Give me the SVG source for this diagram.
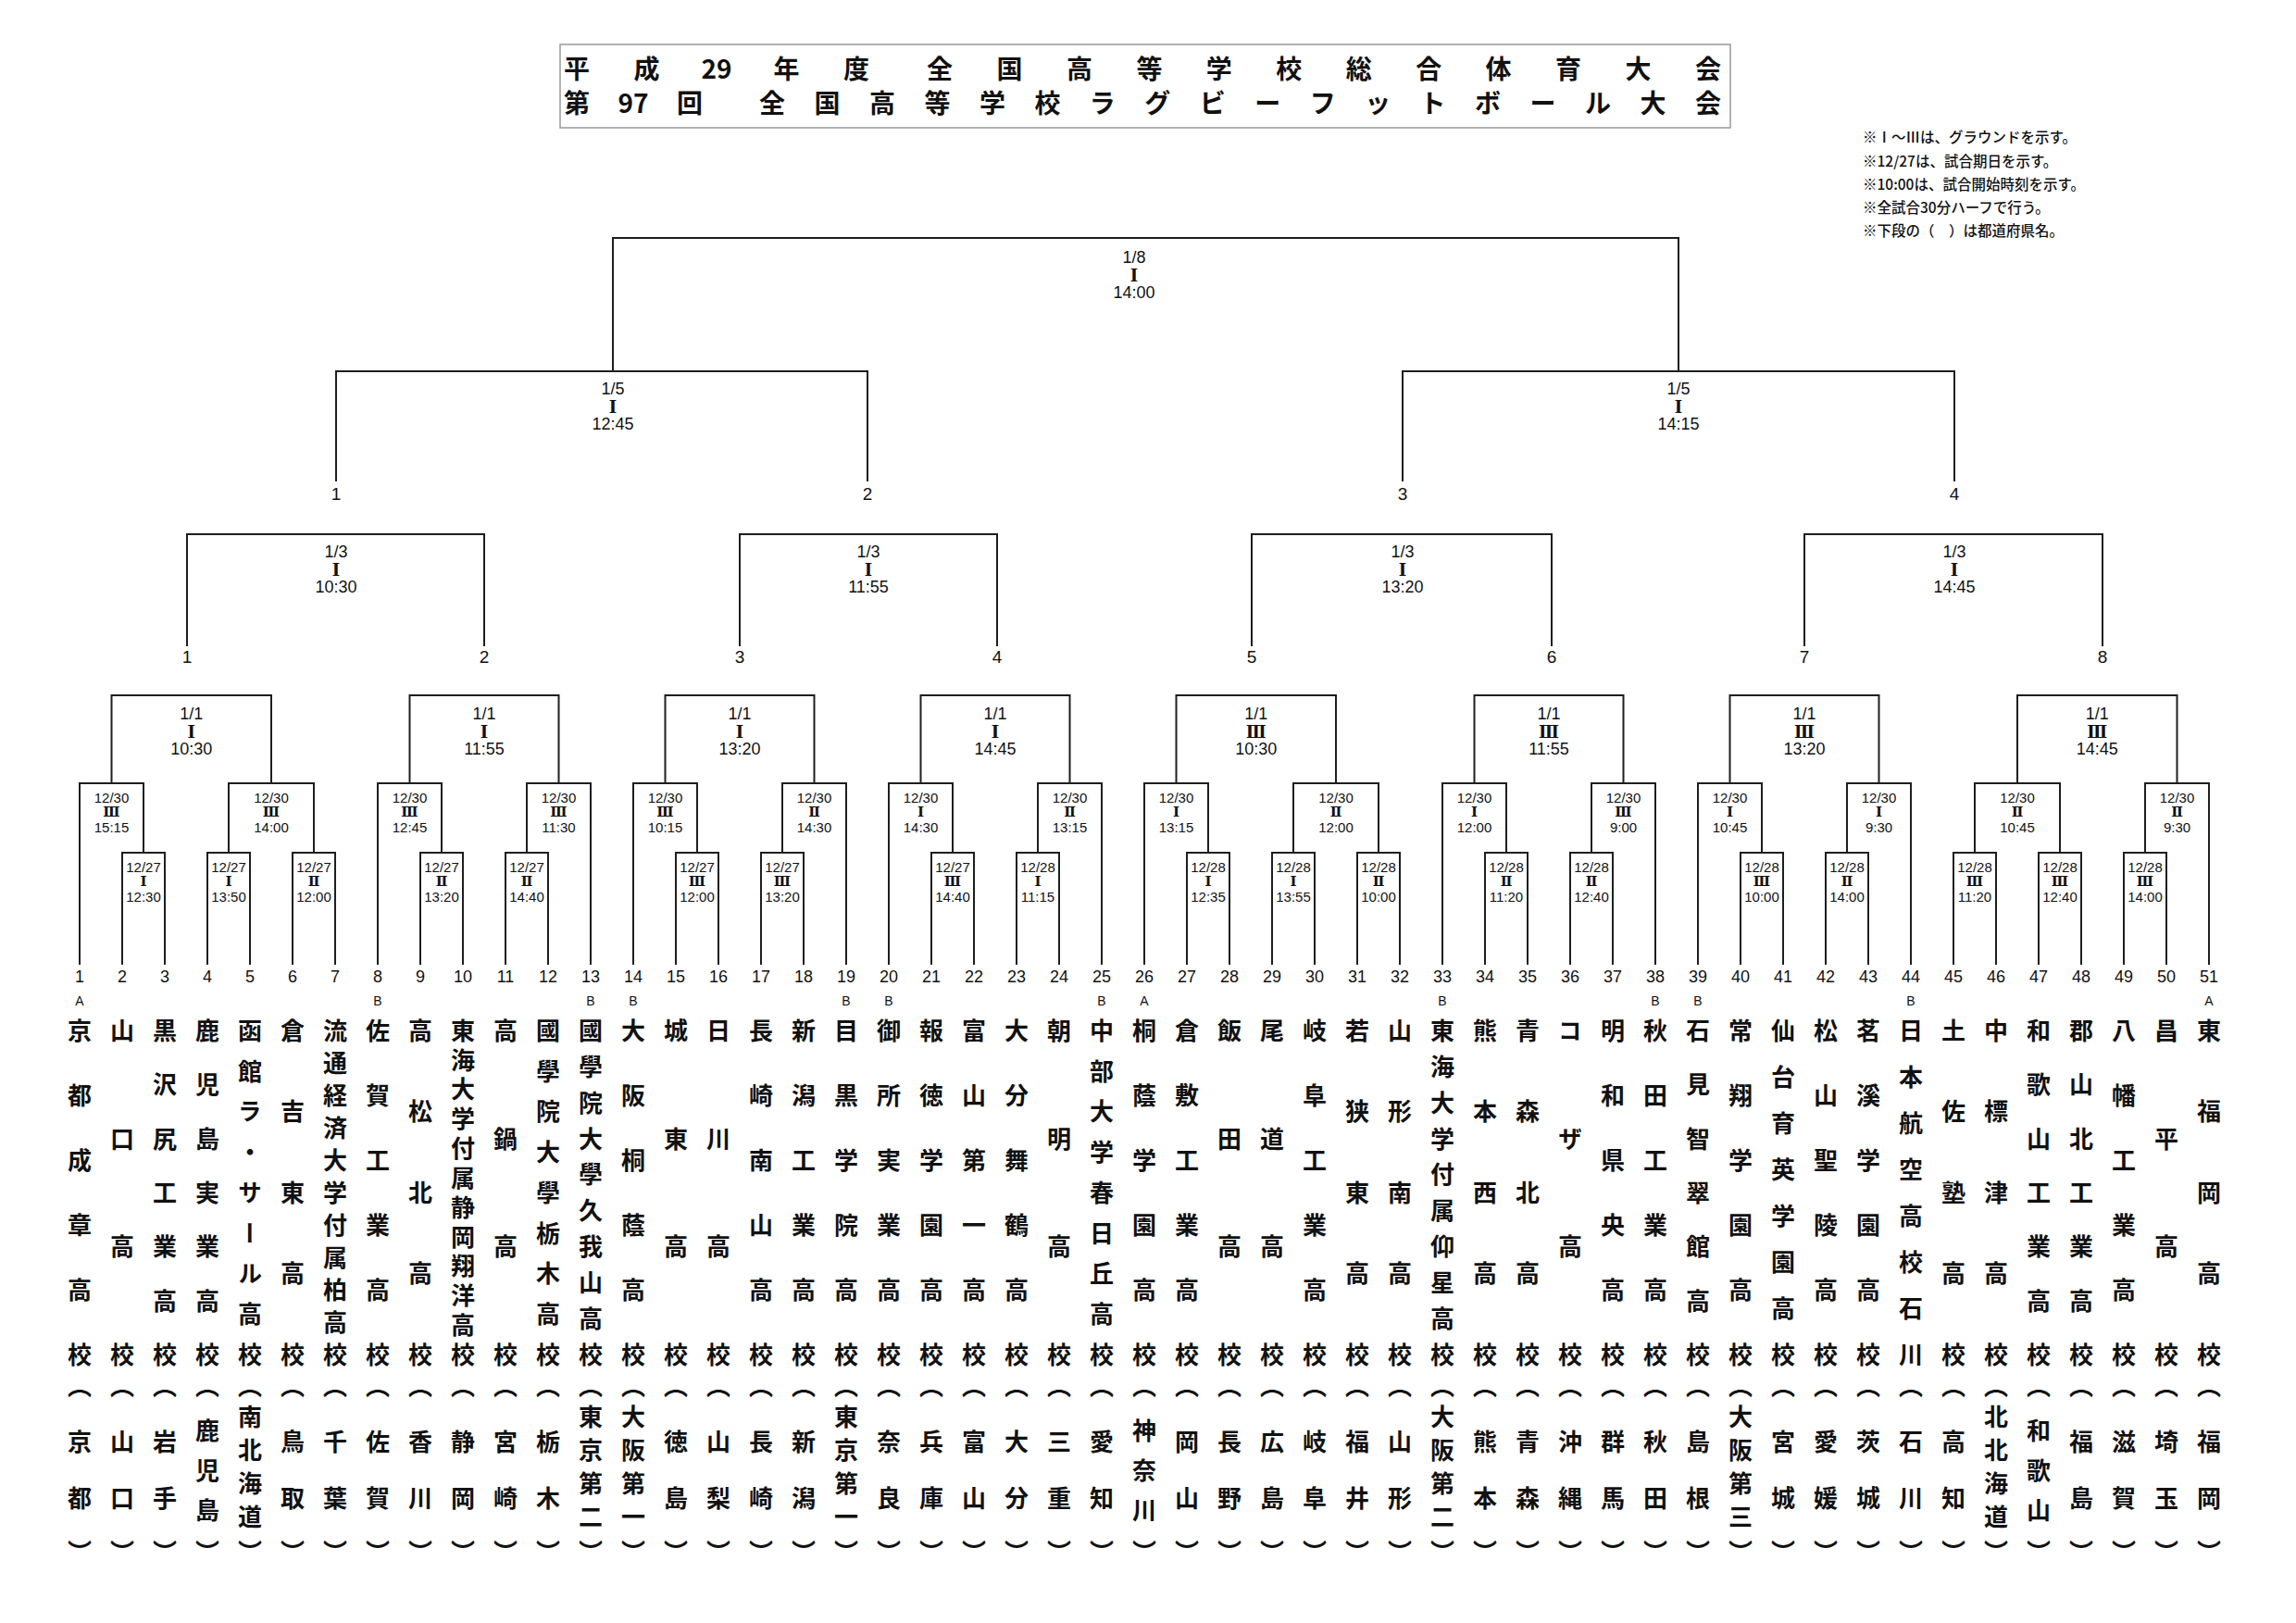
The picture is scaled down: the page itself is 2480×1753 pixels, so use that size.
<svg xmlns="http://www.w3.org/2000/svg" width="2480" height="1753" viewBox="0 0 2480 1753">
<style>
.ln{fill:none;stroke:#1e1e1e;stroke-width:2}
.d,.d tspan{font-family:"Liberation Sans Narrow","Liberation Sans",sans-serif;font-size:18px;text-anchor:middle;dominant-baseline:central;fill:#111}
.s,.s tspan{font-family:"Liberation Sans Narrow","Liberation Sans",sans-serif;font-size:15px;text-anchor:middle;dominant-baseline:central;fill:#111}
.d tspan.rn,.s tspan.rn{font-family:"DejaVu Serif","Noto Sans CJK JP",serif;font-weight:700}
.num{font-family:"Liberation Sans Narrow","Liberation Sans",sans-serif;font-size:18px;text-anchor:middle;dominant-baseline:central;fill:#111}
.big{font-size:19px}
.ab{font-family:"Liberation Sans",sans-serif;font-size:14px;text-anchor:middle;dominant-baseline:central;fill:#111}
.v{font-family:"Noto Sans CJK JP",sans-serif;font-size:26px;font-weight:700;writing-mode:vertical-rl;text-anchor:middle;fill:#111}
.tt,.tt tspan{font-family:"Noto Sans CJK JP",sans-serif;font-size:28px;font-weight:700;text-anchor:middle;dominant-baseline:central;fill:#111}
.nt{font-family:"Noto Sans CJK JP",sans-serif;font-size:15.5px;font-weight:500;dominant-baseline:central;fill:#111}
</style>
<rect width="2480" height="1753" fill="#fff"/>
<g id="title">
<rect x="605" y="48" width="1264" height="90" fill="none" stroke="#999" stroke-width="1.5"/>
<text class="tt" y="73"><tspan x="623 698.5">平成</tspan><tspan x="774">29</tspan><tspan x="849.5 925 1015 1090.5 1165.9 1241.4 1316.8 1392.3 1467.7 1543.2 1618.6 1694.1 1769.5 1845">年度全国高等学校総合体育大会</tspan></text>
<text class="tt" y="110"><tspan x="623">第</tspan><tspan x="684">97</tspan><tspan x="745 834 893.5 953 1012.4 1071.9 1131.4 1190.8 1250.3 1309.8 1369.2 1428.7 1488.2 1547.6 1607.1 1666.6 1726 1785.5 1845">回全国高等学校ラグビーフットボール大会</tspan></text>
</g>
<g id="notes">
<text class="nt" x="2012" y="147">※Ⅰ～Ⅲは、グラウンドを示す。</text>
<text class="nt" x="2012" y="173">※12/27は、試合期日を示す。</text>
<text class="nt" x="2012" y="198">※10:00は、試合開始時刻を示す。</text>
<text class="nt" x="2012" y="223">※全試合30分ハーフで行う。</text>
<text class="nt" x="2012" y="248">※下段の（　）は都道府県名。</text>
</g>
<g id="connectors" class="ln">
<path d="M662 401V257H1813V401"/>
<path d="M363 520V401H937V520"/>
<path d="M1515 520V401H2111V520"/>
<path d="M202 698V577H523V698"/>
<path d="M799 698V577H1077V698"/>
<path d="M1352 698V577H1676V698"/>
<path d="M1949 698V577H2271V698"/>
<path d="M120.5 846V751H293V846"/>
<path d="M442.5 846V751H603.5V846"/>
<path d="M718.5 846V751H879.5V846"/>
<path d="M994.5 846V751H1155.5V846"/>
<path d="M1270.5 846V751H1443V846"/>
<path d="M1592.5 846V751H1753.5V846"/>
<path d="M1868.5 846V751H2029.5V846"/>
<path d="M2179 846V751H2351.5V846"/>
<path d="M86 1042V846H155V921"/>
<path d="M247 921V846H339V921"/>
<path d="M408 1042V846H477V921"/>
<path d="M569 921V846H638V1042"/>
<path d="M684 1042V846H753V921"/>
<path d="M845 921V846H914V1042"/>
<path d="M960 1042V846H1029V921"/>
<path d="M1121 921V846H1190V1042"/>
<path d="M1236 1042V846H1305V921"/>
<path d="M1397 921V846H1489V921"/>
<path d="M1558 1042V846H1627V921"/>
<path d="M1719 921V846H1788V1042"/>
<path d="M1834 1042V846H1903V921"/>
<path d="M1995 921V846H2064V1042"/>
<path d="M2133 921V846H2225V921"/>
<path d="M2317 921V846H2386V1042"/>
<path d="M132 1042V921H178V1042"/>
<path d="M224 1042V921H270V1042"/>
<path d="M316 1042V921H362V1042"/>
<path d="M454 1042V921H500V1042"/>
<path d="M546 1042V921H592V1042"/>
<path d="M730 1042V921H776V1042"/>
<path d="M822 1042V921H868V1042"/>
<path d="M1006 1042V921H1052V1042"/>
<path d="M1098 1042V921H1144V1042"/>
<path d="M1282 1042V921H1328V1042"/>
<path d="M1374 1042V921H1420V1042"/>
<path d="M1466 1042V921H1512V1042"/>
<path d="M1604 1042V921H1650V1042"/>
<path d="M1696 1042V921H1742V1042"/>
<path d="M1880 1042V921H1926V1042"/>
<path d="M1972 1042V921H2018V1042"/>
<path d="M2110 1042V921H2156V1042"/>
<path d="M2202 1042V921H2248V1042"/>
<path d="M2294 1042V921H2340V1042"/>
</g>
<g id="final"><text class="d"><tspan x="1225" y="278">1/8</tspan><tspan class="rn" x="1225" y="297">Ⅰ</tspan><tspan x="1225" y="316">14:00</tspan></text></g>
<g id="sf-1"><text class="d"><tspan x="662" y="420">1/5</tspan><tspan class="rn" x="662" y="439">Ⅰ</tspan><tspan x="662" y="458">12:45</tspan></text></g>
<g id="sf-2"><text class="d"><tspan x="1813" y="420">1/5</tspan><tspan class="rn" x="1813" y="439">Ⅰ</tspan><tspan x="1813" y="458">14:15</tspan></text></g>
<g id="sf-slots"><text class="num big" x="363" y="533">1</text><text class="num big" x="937" y="533">2</text><text class="num big" x="1515" y="533">3</text><text class="num big" x="2111" y="533">4</text></g>
<g id="qf-1"><text class="d"><tspan x="363" y="596">1/3</tspan><tspan class="rn" x="363" y="615">Ⅰ</tspan><tspan x="363" y="634">10:30</tspan></text></g>
<g id="qf-2"><text class="d"><tspan x="938" y="596">1/3</tspan><tspan class="rn" x="938" y="615">Ⅰ</tspan><tspan x="938" y="634">11:55</tspan></text></g>
<g id="qf-3"><text class="d"><tspan x="1515" y="596">1/3</tspan><tspan class="rn" x="1515" y="615">Ⅰ</tspan><tspan x="1515" y="634">13:20</tspan></text></g>
<g id="qf-4"><text class="d"><tspan x="2111" y="596">1/3</tspan><tspan class="rn" x="2111" y="615">Ⅰ</tspan><tspan x="2111" y="634">14:45</tspan></text></g>
<g id="qf-slots"><text class="num big" x="202" y="709">1</text><text class="num big" x="523" y="709">2</text><text class="num big" x="799" y="709">3</text><text class="num big" x="1077" y="709">4</text><text class="num big" x="1352" y="709">5</text><text class="num big" x="1676" y="709">6</text><text class="num big" x="1949" y="709">7</text><text class="num big" x="2271" y="709">8</text></g>
<g id="r3-1"><text class="d"><tspan x="206.75" y="771">1/1</tspan><tspan class="rn" x="206.75" y="790">Ⅰ</tspan><tspan x="206.75" y="809">10:30</tspan></text></g>
<g id="r3-2"><text class="d"><tspan x="523" y="771">1/1</tspan><tspan class="rn" x="523" y="790">Ⅰ</tspan><tspan x="523" y="809">11:55</tspan></text></g>
<g id="r3-3"><text class="d"><tspan x="799" y="771">1/1</tspan><tspan class="rn" x="799" y="790">Ⅰ</tspan><tspan x="799" y="809">13:20</tspan></text></g>
<g id="r3-4"><text class="d"><tspan x="1075" y="771">1/1</tspan><tspan class="rn" x="1075" y="790">Ⅰ</tspan><tspan x="1075" y="809">14:45</tspan></text></g>
<g id="r3-5"><text class="d"><tspan x="1356.75" y="771">1/1</tspan><tspan class="rn" x="1356.75" y="790">Ⅲ</tspan><tspan x="1356.75" y="809">10:30</tspan></text></g>
<g id="r3-6"><text class="d"><tspan x="1673" y="771">1/1</tspan><tspan class="rn" x="1673" y="790">Ⅲ</tspan><tspan x="1673" y="809">11:55</tspan></text></g>
<g id="r3-7"><text class="d"><tspan x="1949" y="771">1/1</tspan><tspan class="rn" x="1949" y="790">Ⅲ</tspan><tspan x="1949" y="809">13:20</tspan></text></g>
<g id="r3-8"><text class="d"><tspan x="2265.25" y="771">1/1</tspan><tspan class="rn" x="2265.25" y="790">Ⅲ</tspan><tspan x="2265.25" y="809">14:45</tspan></text></g>
<g id="r2-1"><text class="s"><tspan x="120.5" y="861">12/30</tspan><tspan class="rn" x="120.5" y="877">Ⅲ</tspan><tspan x="120.5" y="893">15:15</tspan></text></g>
<g id="r2-2"><text class="s"><tspan x="293" y="861">12/30</tspan><tspan class="rn" x="293" y="877">Ⅲ</tspan><tspan x="293" y="893">14:00</tspan></text></g>
<g id="r2-3"><text class="s"><tspan x="442.5" y="861">12/30</tspan><tspan class="rn" x="442.5" y="877">Ⅲ</tspan><tspan x="442.5" y="893">12:45</tspan></text></g>
<g id="r2-4"><text class="s"><tspan x="603.5" y="861">12/30</tspan><tspan class="rn" x="603.5" y="877">Ⅲ</tspan><tspan x="603.5" y="893">11:30</tspan></text></g>
<g id="r2-5"><text class="s"><tspan x="718.5" y="861">12/30</tspan><tspan class="rn" x="718.5" y="877">Ⅲ</tspan><tspan x="718.5" y="893">10:15</tspan></text></g>
<g id="r2-6"><text class="s"><tspan x="879.5" y="861">12/30</tspan><tspan class="rn" x="879.5" y="877">Ⅱ</tspan><tspan x="879.5" y="893">14:30</tspan></text></g>
<g id="r2-7"><text class="s"><tspan x="994.5" y="861">12/30</tspan><tspan class="rn" x="994.5" y="877">Ⅰ</tspan><tspan x="994.5" y="893">14:30</tspan></text></g>
<g id="r2-8"><text class="s"><tspan x="1155.5" y="861">12/30</tspan><tspan class="rn" x="1155.5" y="877">Ⅱ</tspan><tspan x="1155.5" y="893">13:15</tspan></text></g>
<g id="r2-9"><text class="s"><tspan x="1270.5" y="861">12/30</tspan><tspan class="rn" x="1270.5" y="877">Ⅰ</tspan><tspan x="1270.5" y="893">13:15</tspan></text></g>
<g id="r2-10"><text class="s"><tspan x="1443" y="861">12/30</tspan><tspan class="rn" x="1443" y="877">Ⅱ</tspan><tspan x="1443" y="893">12:00</tspan></text></g>
<g id="r2-11"><text class="s"><tspan x="1592.5" y="861">12/30</tspan><tspan class="rn" x="1592.5" y="877">Ⅰ</tspan><tspan x="1592.5" y="893">12:00</tspan></text></g>
<g id="r2-12"><text class="s"><tspan x="1753.5" y="861">12/30</tspan><tspan class="rn" x="1753.5" y="877">Ⅲ</tspan><tspan x="1753.5" y="893">9:00</tspan></text></g>
<g id="r2-13"><text class="s"><tspan x="1868.5" y="861">12/30</tspan><tspan class="rn" x="1868.5" y="877">Ⅰ</tspan><tspan x="1868.5" y="893">10:45</tspan></text></g>
<g id="r2-14"><text class="s"><tspan x="2029.5" y="861">12/30</tspan><tspan class="rn" x="2029.5" y="877">Ⅰ</tspan><tspan x="2029.5" y="893">9:30</tspan></text></g>
<g id="r2-15"><text class="s"><tspan x="2179" y="861">12/30</tspan><tspan class="rn" x="2179" y="877">Ⅱ</tspan><tspan x="2179" y="893">10:45</tspan></text></g>
<g id="r2-16"><text class="s"><tspan x="2351.5" y="861">12/30</tspan><tspan class="rn" x="2351.5" y="877">Ⅱ</tspan><tspan x="2351.5" y="893">9:30</tspan></text></g>
<g id="r1-1"><text class="s"><tspan x="155" y="936">12/27</tspan><tspan class="rn" x="155" y="952">Ⅰ</tspan><tspan x="155" y="968">12:30</tspan></text></g>
<g id="r1-2"><text class="s"><tspan x="247" y="936">12/27</tspan><tspan class="rn" x="247" y="952">Ⅰ</tspan><tspan x="247" y="968">13:50</tspan></text></g>
<g id="r1-3"><text class="s"><tspan x="339" y="936">12/27</tspan><tspan class="rn" x="339" y="952">Ⅱ</tspan><tspan x="339" y="968">12:00</tspan></text></g>
<g id="r1-4"><text class="s"><tspan x="477" y="936">12/27</tspan><tspan class="rn" x="477" y="952">Ⅱ</tspan><tspan x="477" y="968">13:20</tspan></text></g>
<g id="r1-5"><text class="s"><tspan x="569" y="936">12/27</tspan><tspan class="rn" x="569" y="952">Ⅱ</tspan><tspan x="569" y="968">14:40</tspan></text></g>
<g id="r1-6"><text class="s"><tspan x="753" y="936">12/27</tspan><tspan class="rn" x="753" y="952">Ⅲ</tspan><tspan x="753" y="968">12:00</tspan></text></g>
<g id="r1-7"><text class="s"><tspan x="845" y="936">12/27</tspan><tspan class="rn" x="845" y="952">Ⅲ</tspan><tspan x="845" y="968">13:20</tspan></text></g>
<g id="r1-8"><text class="s"><tspan x="1029" y="936">12/27</tspan><tspan class="rn" x="1029" y="952">Ⅲ</tspan><tspan x="1029" y="968">14:40</tspan></text></g>
<g id="r1-9"><text class="s"><tspan x="1121" y="936">12/28</tspan><tspan class="rn" x="1121" y="952">Ⅰ</tspan><tspan x="1121" y="968">11:15</tspan></text></g>
<g id="r1-10"><text class="s"><tspan x="1305" y="936">12/28</tspan><tspan class="rn" x="1305" y="952">Ⅰ</tspan><tspan x="1305" y="968">12:35</tspan></text></g>
<g id="r1-11"><text class="s"><tspan x="1397" y="936">12/28</tspan><tspan class="rn" x="1397" y="952">Ⅰ</tspan><tspan x="1397" y="968">13:55</tspan></text></g>
<g id="r1-12"><text class="s"><tspan x="1489" y="936">12/28</tspan><tspan class="rn" x="1489" y="952">Ⅱ</tspan><tspan x="1489" y="968">10:00</tspan></text></g>
<g id="r1-13"><text class="s"><tspan x="1627" y="936">12/28</tspan><tspan class="rn" x="1627" y="952">Ⅱ</tspan><tspan x="1627" y="968">11:20</tspan></text></g>
<g id="r1-14"><text class="s"><tspan x="1719" y="936">12/28</tspan><tspan class="rn" x="1719" y="952">Ⅱ</tspan><tspan x="1719" y="968">12:40</tspan></text></g>
<g id="r1-15"><text class="s"><tspan x="1903" y="936">12/28</tspan><tspan class="rn" x="1903" y="952">Ⅲ</tspan><tspan x="1903" y="968">10:00</tspan></text></g>
<g id="r1-16"><text class="s"><tspan x="1995" y="936">12/28</tspan><tspan class="rn" x="1995" y="952">Ⅱ</tspan><tspan x="1995" y="968">14:00</tspan></text></g>
<g id="r1-17"><text class="s"><tspan x="2133" y="936">12/28</tspan><tspan class="rn" x="2133" y="952">Ⅲ</tspan><tspan x="2133" y="968">11:20</tspan></text></g>
<g id="r1-18"><text class="s"><tspan x="2225" y="936">12/28</tspan><tspan class="rn" x="2225" y="952">Ⅲ</tspan><tspan x="2225" y="968">12:40</tspan></text></g>
<g id="r1-19"><text class="s"><tspan x="2317" y="936">12/28</tspan><tspan class="rn" x="2317" y="952">Ⅲ</tspan><tspan x="2317" y="968">14:00</tspan></text></g>
<g id="t1"><text class="num" x="86" y="1055">1</text><text class="ab" x="86" y="1081">A</text><text class="v" x="86" y="1113 1183 1253 1323 1393 1463 1497 1557 1618 1676">京都成章高校（京都）</text></g>
<g id="t2"><text class="num" x="132" y="1055">2</text><text class="v" x="132" y="1113 1229.7 1346.3 1463 1497 1557 1618 1676">山口高校（山口）</text></g>
<g id="t3"><text class="num" x="178" y="1055">3</text><text class="v" x="178" y="1113 1171.3 1229.7 1288 1346.3 1404.7 1463 1497 1557 1618 1676">黒沢尻工業高校（岩手）</text></g>
<g id="t4"><text class="num" x="224" y="1055">4</text><text class="v" x="224" y="1113 1171.3 1229.7 1288 1346.3 1404.7 1463 1497 1545 1588 1631 1676">鹿児島実業高校（鹿児島）</text></g>
<g id="t5"><text class="num" x="270" y="1055">5</text><text class="v" x="270" y="1113 1156.8 1200.5 1244.3 1288 1331.8 1375.5 1419.3 1463 1497 1530 1566 1602 1638 1676">函館ラ・サール高校（南北海道）</text></g>
<g id="t6"><text class="num" x="316" y="1055">6</text><text class="v" x="316" y="1113 1200.5 1288 1375.5 1463 1497 1557 1618 1676">倉吉東高校（鳥取）</text></g>
<g id="t7"><text class="num" x="362" y="1055">7</text><text class="v" x="362" y="1113 1148 1183 1218 1253 1288 1323 1358 1393 1428 1463 1497 1557 1618 1676">流通経済大学付属柏高校（千葉）</text></g>
<g id="t8"><text class="num" x="408" y="1055">8</text><text class="ab" x="408" y="1081">B</text><text class="v" x="408" y="1113 1183 1253 1323 1393 1463 1497 1557 1618 1676">佐賀工業高校（佐賀）</text></g>
<g id="t9"><text class="num" x="454" y="1055">9</text><text class="v" x="454" y="1113 1200.5 1288 1375.5 1463 1497 1557 1618 1676">高松北高校（香川）</text></g>
<g id="t10"><text class="num" x="500" y="1055">10</text><text class="v" x="500" y="1113 1144.8 1176.6 1208.5 1240.3 1272.1 1303.9 1335.7 1367.5 1399.4 1431.2 1463 1497 1557 1618 1676">東海大学付属静岡翔洋高校（静岡）</text></g>
<g id="t11"><text class="num" x="546" y="1055">11</text><text class="v" x="546" y="1113 1229.7 1346.3 1463 1497 1557 1618 1676">高鍋高校（宮崎）</text></g>
<g id="t12"><text class="num" x="592" y="1055">12</text><text class="v" x="592" y="1113 1156.8 1200.5 1244.3 1288 1331.8 1375.5 1419.3 1463 1497 1557 1618 1676">國學院大學栃木高校（栃木）</text></g>
<g id="t13"><text class="num" x="638" y="1055">13</text><text class="ab" x="638" y="1081">B</text><text class="v" x="638" y="1113 1151.9 1190.8 1229.7 1268.6 1307.4 1346.3 1385.2 1424.1 1463 1497 1530 1566 1602 1638 1676">國學院大學久我山高校（東京第二）</text></g>
<g id="t14"><text class="num" x="684" y="1055">14</text><text class="ab" x="684" y="1081">B</text><text class="v" x="684" y="1113 1183 1253 1323 1393 1463 1497 1530 1566 1602 1638 1676">大阪桐蔭高校（大阪第一）</text></g>
<g id="t15"><text class="num" x="730" y="1055">15</text><text class="v" x="730" y="1113 1229.7 1346.3 1463 1497 1557 1618 1676">城東高校（徳島）</text></g>
<g id="t16"><text class="num" x="776" y="1055">16</text><text class="v" x="776" y="1113 1229.7 1346.3 1463 1497 1557 1618 1676">日川高校（山梨）</text></g>
<g id="t17"><text class="num" x="822" y="1055">17</text><text class="v" x="822" y="1113 1183 1253 1323 1393 1463 1497 1557 1618 1676">長崎南山高校（長崎）</text></g>
<g id="t18"><text class="num" x="868" y="1055">18</text><text class="v" x="868" y="1113 1183 1253 1323 1393 1463 1497 1557 1618 1676">新潟工業高校（新潟）</text></g>
<g id="t19"><text class="num" x="914" y="1055">19</text><text class="ab" x="914" y="1081">B</text><text class="v" x="914" y="1113 1183 1253 1323 1393 1463 1497 1530 1566 1602 1638 1676">目黒学院高校（東京第一）</text></g>
<g id="t20"><text class="num" x="960" y="1055">20</text><text class="ab" x="960" y="1081">B</text><text class="v" x="960" y="1113 1183 1253 1323 1393 1463 1497 1557 1618 1676">御所実業高校（奈良）</text></g>
<g id="t21"><text class="num" x="1006" y="1055">21</text><text class="v" x="1006" y="1113 1183 1253 1323 1393 1463 1497 1557 1618 1676">報徳学園高校（兵庫）</text></g>
<g id="t22"><text class="num" x="1052" y="1055">22</text><text class="v" x="1052" y="1113 1183 1253 1323 1393 1463 1497 1557 1618 1676">富山第一高校（富山）</text></g>
<g id="t23"><text class="num" x="1098" y="1055">23</text><text class="v" x="1098" y="1113 1183 1253 1323 1393 1463 1497 1557 1618 1676">大分舞鶴高校（大分）</text></g>
<g id="t24"><text class="num" x="1144" y="1055">24</text><text class="v" x="1144" y="1113 1229.7 1346.3 1463 1497 1557 1618 1676">朝明高校（三重）</text></g>
<g id="t25"><text class="num" x="1190" y="1055">25</text><text class="ab" x="1190" y="1081">B</text><text class="v" x="1190" y="1113 1156.8 1200.5 1244.3 1288 1331.8 1375.5 1419.3 1463 1497 1557 1618 1676">中部大学春日丘高校（愛知）</text></g>
<g id="t26"><text class="num" x="1236" y="1055">26</text><text class="ab" x="1236" y="1081">A</text><text class="v" x="1236" y="1113 1183 1253 1323 1393 1463 1497 1545 1588 1631 1676">桐蔭学園高校（神奈川）</text></g>
<g id="t27"><text class="num" x="1282" y="1055">27</text><text class="v" x="1282" y="1113 1183 1253 1323 1393 1463 1497 1557 1618 1676">倉敷工業高校（岡山）</text></g>
<g id="t28"><text class="num" x="1328" y="1055">28</text><text class="v" x="1328" y="1113 1229.7 1346.3 1463 1497 1557 1618 1676">飯田高校（長野）</text></g>
<g id="t29"><text class="num" x="1374" y="1055">29</text><text class="v" x="1374" y="1113 1229.7 1346.3 1463 1497 1557 1618 1676">尾道高校（広島）</text></g>
<g id="t30"><text class="num" x="1420" y="1055">30</text><text class="v" x="1420" y="1113 1183 1253 1323 1393 1463 1497 1557 1618 1676">岐阜工業高校（岐阜）</text></g>
<g id="t31"><text class="num" x="1466" y="1055">31</text><text class="v" x="1466" y="1113 1200.5 1288 1375.5 1463 1497 1557 1618 1676">若狭東高校（福井）</text></g>
<g id="t32"><text class="num" x="1512" y="1055">32</text><text class="v" x="1512" y="1113 1200.5 1288 1375.5 1463 1497 1557 1618 1676">山形南高校（山形）</text></g>
<g id="t33"><text class="num" x="1558" y="1055">33</text><text class="ab" x="1558" y="1081">B</text><text class="v" x="1558" y="1113 1151.9 1190.8 1229.7 1268.6 1307.4 1346.3 1385.2 1424.1 1463 1497 1530 1566 1602 1638 1676">東海大学付属仰星高校（大阪第二）</text></g>
<g id="t34"><text class="num" x="1604" y="1055">34</text><text class="v" x="1604" y="1113 1200.5 1288 1375.5 1463 1497 1557 1618 1676">熊本西高校（熊本）</text></g>
<g id="t35"><text class="num" x="1650" y="1055">35</text><text class="v" x="1650" y="1113 1200.5 1288 1375.5 1463 1497 1557 1618 1676">青森北高校（青森）</text></g>
<g id="t36"><text class="num" x="1696" y="1055">36</text><text class="v" x="1696" y="1113 1229.7 1346.3 1463 1497 1557 1618 1676">コザ高校（沖縄）</text></g>
<g id="t37"><text class="num" x="1742" y="1055">37</text><text class="v" x="1742" y="1113 1183 1253 1323 1393 1463 1497 1557 1618 1676">明和県央高校（群馬）</text></g>
<g id="t38"><text class="num" x="1788" y="1055">38</text><text class="ab" x="1788" y="1081">B</text><text class="v" x="1788" y="1113 1183 1253 1323 1393 1463 1497 1557 1618 1676">秋田工業高校（秋田）</text></g>
<g id="t39"><text class="num" x="1834" y="1055">39</text><text class="ab" x="1834" y="1081">B</text><text class="v" x="1834" y="1113 1171.3 1229.7 1288 1346.3 1404.7 1463 1497 1557 1618 1676">石見智翠館高校（島根）</text></g>
<g id="t40"><text class="num" x="1880" y="1055">40</text><text class="v" x="1880" y="1113 1183 1253 1323 1393 1463 1497 1530 1566 1602 1638 1676">常翔学園高校（大阪第三）</text></g>
<g id="t41"><text class="num" x="1926" y="1055">41</text><text class="v" x="1926" y="1113 1163 1213 1263 1313 1363 1413 1463 1497 1557 1618 1676">仙台育英学園高校（宮城）</text></g>
<g id="t42"><text class="num" x="1972" y="1055">42</text><text class="v" x="1972" y="1113 1183 1253 1323 1393 1463 1497 1557 1618 1676">松山聖陵高校（愛媛）</text></g>
<g id="t43"><text class="num" x="2018" y="1055">43</text><text class="v" x="2018" y="1113 1183 1253 1323 1393 1463 1497 1557 1618 1676">茗溪学園高校（茨城）</text></g>
<g id="t44"><text class="num" x="2064" y="1055">44</text><text class="ab" x="2064" y="1081">B</text><text class="v" x="2064" y="1113 1163 1213 1263 1313 1363 1413 1463 1497 1557 1618 1676">日本航空高校石川（石川）</text></g>
<g id="t45"><text class="num" x="2110" y="1055">45</text><text class="v" x="2110" y="1113 1200.5 1288 1375.5 1463 1497 1557 1618 1676">土佐塾高校（高知）</text></g>
<g id="t46"><text class="num" x="2156" y="1055">46</text><text class="v" x="2156" y="1113 1200.5 1288 1375.5 1463 1497 1530 1566 1602 1638 1676">中標津高校（北北海道）</text></g>
<g id="t47"><text class="num" x="2202" y="1055">47</text><text class="v" x="2202" y="1113 1171.3 1229.7 1288 1346.3 1404.7 1463 1497 1545 1588 1631 1676">和歌山工業高校（和歌山）</text></g>
<g id="t48"><text class="num" x="2248" y="1055">48</text><text class="v" x="2248" y="1113 1171.3 1229.7 1288 1346.3 1404.7 1463 1497 1557 1618 1676">郡山北工業高校（福島）</text></g>
<g id="t49"><text class="num" x="2294" y="1055">49</text><text class="v" x="2294" y="1113 1183 1253 1323 1393 1463 1497 1557 1618 1676">八幡工業高校（滋賀）</text></g>
<g id="t50"><text class="num" x="2340" y="1055">50</text><text class="v" x="2340" y="1113 1229.7 1346.3 1463 1497 1557 1618 1676">昌平高校（埼玉）</text></g>
<g id="t51"><text class="num" x="2386" y="1055">51</text><text class="ab" x="2386" y="1081">A</text><text class="v" x="2386" y="1113 1200.5 1288 1375.5 1463 1497 1557 1618 1676">東福岡高校（福岡）</text></g>
</svg>
